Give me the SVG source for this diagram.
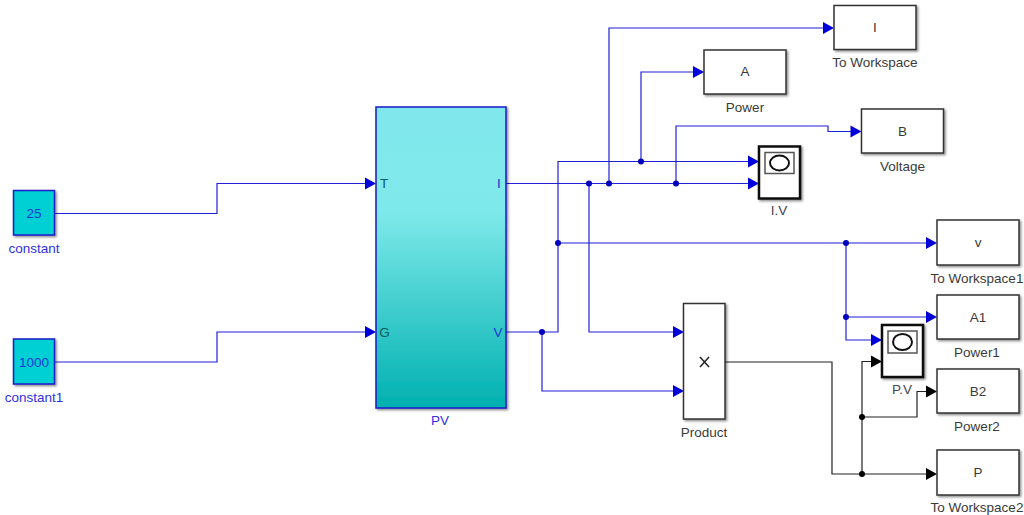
<svg xmlns="http://www.w3.org/2000/svg" width="1024" height="515" viewBox="0 0 1024 515">
<style>
text{font-family:"Liberation Sans",Arial,sans-serif;font-size:13.5px;text-anchor:middle}
.lbl{fill:#3a3a3a}
.blu{fill:#3030e0}
.box{fill:#fff;stroke:#333;stroke-width:1.5;filter:url(#sh)}
.sc{fill:#fff;stroke:#111;stroke-width:2.5;filter:url(#sh)}
.scr{fill:#fff;stroke:#555;stroke-width:1.5}
.ring{fill:#fff;stroke:#111;stroke-width:2}
.con{fill:#00cfd4;stroke:#1a1ac8;stroke-width:1.5;filter:url(#sh)}
.w{fill:none;stroke:#2020d8;stroke-width:1.2}
.k{fill:none;stroke:#222;stroke-width:1.2}
.jb{fill:#0000c0}
.jk{fill:#000}
.ab{fill:#0000d8}
.ak{fill:#000}
</style>
<defs>
<linearGradient id="g" x1="0" y1="0" x2="0" y2="1">
<stop offset="0" stop-color="#80e8ec"/><stop offset="0.35" stop-color="#7ee9ea"/><stop offset="1" stop-color="#00b0b0"/>
</linearGradient>
<filter id="sh" x="-10%" y="-10%" width="125%" height="125%"><feDropShadow dx="1.5" dy="1.5" stdDeviation="1" flood-color="#000" flood-opacity="0.45"/></filter>
<polygon id="a" points="0,-6 11,0 0,6"/>
</defs>

<g id="connectors">
<path class="w" d="M55 213.5H217V183.5H366"/>
<path class="w" d="M55 362H217V332H366"/>
<path class="w" d="M506 183.5H748"/>
<path class="w" d="M506 332H558V161.5H748"/>
<path class="w" d="M609 183.5V28H824"/>
<path class="w" d="M641 161.5V72H694"/>
<path class="w" d="M676 183.5V126H828V131.500H851"/>
<path class="w" d="M558 243H926"/>
<path class="w" d="M846 243V340H871"/>
<path class="w" d="M846 317H926"/>
<path class="w" d="M589 183.500V332H673"/>
<path class="w" d="M542 332V391H673"/>
<path class="k" d="M725 362H832V474H926"/>
<path class="k" d="M862 474V361.500H871"/>
<path class="k" d="M862 417H917V391.500H926"/>
<g class="jb">
<circle cx="589" cy="183.500" r="3"/><circle cx="609" cy="183.500" r="3"/><circle cx="676" cy="183.500" r="3"/>
<circle cx="641" cy="161.500" r="3"/><circle cx="558" cy="243" r="3"/><circle cx="542" cy="332" r="3"/>
<circle cx="846" cy="243" r="3"/><circle cx="846" cy="317" r="3"/>
</g>
<g class="jk"><circle cx="862" cy="474" r="3"/><circle cx="862" cy="417" r="3"/></g>
<g class="ab">
<use href="#a" x="365" y="183.500"/><use href="#a" x="365" y="332"/>
<use href="#a" x="748" y="161.500"/><use href="#a" x="748" y="183.500"/>
<use href="#a" x="823" y="28"/><use href="#a" x="693" y="72"/><use href="#a" x="850.500" y="131.500"/>
<use href="#a" x="926" y="243"/><use href="#a" x="926" y="317"/><use href="#a" x="871" y="340"/>
<use href="#a" x="673" y="332"/><use href="#a" x="673" y="391"/>
</g>
<g class="ak">
<use href="#a" x="871" y="361.500"/><use href="#a" x="926" y="391.500"/><use href="#a" x="926" y="474"/>
</g>
</g>

<g id="constant"><rect class="con" x="13.500" y="190.500" width="41" height="44.500"/><text x="34" y="218" fill="#1a3ad0">25</text><text class="blu" x="34" y="253">constant</text></g>
<g id="constant1"><rect class="con" x="13.500" y="339" width="41" height="45"/><text x="34" y="366.500" fill="#1a3ad0">1000</text><text class="blu" x="34" y="402">constant1</text></g>

<g id="PV"><rect x="376" y="107" width="130" height="301" fill="url(#g)" stroke="#1a1ac8" stroke-width="1.5" filter="url(#sh)"/>
<text x="384" y="188" fill="#0b5a62">T</text><text x="384.500" y="336.500" fill="#0b5a62">G</text>
<text x="499" y="188" fill="#1a3ad0">I</text><text x="498" y="336.500" fill="#1a3ad0">V</text>
<text class="blu" x="440" y="425">PV</text></g>

<g id="Product"><rect class="box" x="683.500" y="303.500" width="41.500" height="115.500"/>
<path d="M700 357L709 367M709 357L700 367" fill="none" stroke="#222" stroke-width="1.5"/>
<text class="lbl" x="704" y="437">Product</text></g>

<g id="ToWorkspace"><rect class="box" x="834" y="5.500" width="82" height="44"/><text class="lbl" x="875" y="31.500">I</text><text class="lbl" x="875" y="67">To Workspace</text></g>
<g id="Power"><rect class="box" x="704" y="50" width="82" height="44"/><text class="lbl" x="745" y="76">A</text><text class="lbl" x="745" y="112">Power</text></g>
<g id="Voltage"><rect class="box" x="861.500" y="109" width="82" height="44"/><text class="lbl" x="902.500" y="135.500">B</text><text class="lbl" x="902.500" y="171">Voltage</text></g>

<g id="IV"><rect class="sc" x="759" y="146.500" width="41" height="52"/><rect class="scr" x="765" y="152.500" width="29" height="21"/><ellipse class="ring" cx="779.500" cy="163" rx="9.500" ry="7.500"/><text x="779" y="215" fill="#445">I.V</text></g>
<g id="PV-scope"><rect class="sc" x="882" y="325" width="41" height="52"/><rect class="scr" x="888" y="331" width="29" height="22"/><ellipse class="ring" cx="902.500" cy="342" rx="9.500" ry="8"/><text x="902" y="394" fill="#445">P.V</text></g>

<g id="ToWorkspace1"><rect class="box" x="937" y="220" width="82" height="45"/><text class="lbl" x="978" y="247">v</text><text class="lbl" x="977" y="283">To Workspace1</text></g>
<g id="Power1"><rect class="box" x="937" y="295" width="82" height="44"/><text class="lbl" x="978" y="321.500">A1</text><text class="lbl" x="977" y="357">Power1</text></g>
<g id="Power2"><rect class="box" x="937" y="369" width="82" height="44"/><text class="lbl" x="978" y="396">B2</text><text class="lbl" x="977" y="431">Power2</text></g>
<g id="ToWorkspace2"><rect class="box" x="937" y="450" width="82" height="45"/><text class="lbl" x="978" y="476.500">P</text><text class="lbl" x="977" y="512">To Workspace2</text></g>
</svg>
